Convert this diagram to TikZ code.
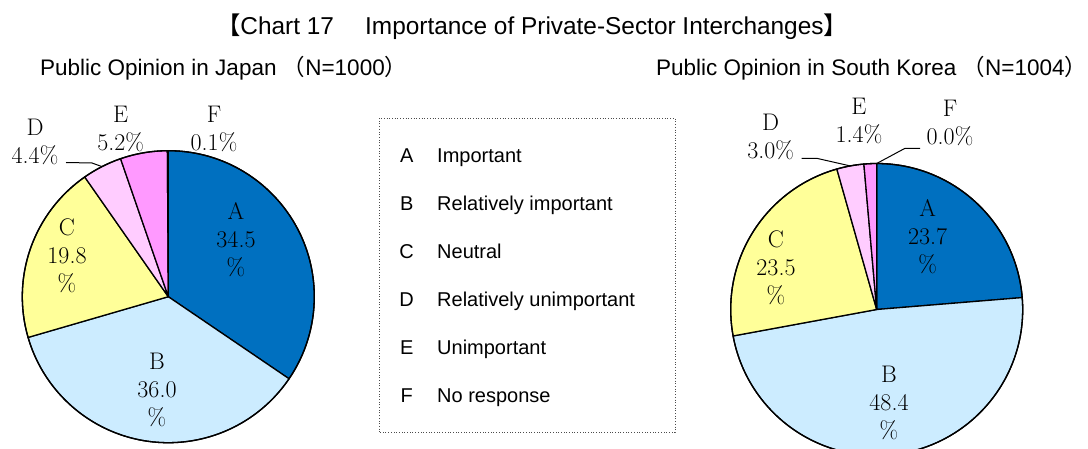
\documentclass[tikz,border=0pt]{standalone}
\usepackage{fontspec}
\usetikzlibrary{calc}
\newfontfamily\arialf{Liberation Sans}
\newfontfamily\cjkf{Noto Sans CJK JP}
\definecolor{cA}{HTML}{0070C0}
\definecolor{cB}{HTML}{CCECFF}
\definecolor{cC}{HTML}{FFFF99}
\definecolor{cD}{HTML}{FFCCFF}
\definecolor{cE}{HTML}{FF99FF}
\definecolor{cF}{HTML}{CC66FF}
\newcommand{\myslice}[4]{\filldraw[slice, fill=#4] (#1) -- ++(#2:146) arc[start angle=#2, end angle=#3, radius=146] -- cycle;}
\begin{document}
\begin{tikzpicture}[x=1pt,y=1pt,
  slice/.style={draw=black, line width=1.3pt, line join=round},
  pielab/.style={font=\fontsize{24}{28}\selectfont, align=center, inner sep=0pt},
  leader/.style={draw=black, line width=1pt},
  legletter/.style={font=\arialf\fontsize{20}{24}\selectfont, anchor=base, inner sep=0pt},
  legtext/.style={font=\arialf\fontsize{20}{24}\selectfont, anchor=base west, inner sep=0pt},
  titletext/.style={font=\arialf\fontsize{24.4}{28}\selectfont, anchor=base, inner sep=0pt},
  subtext/.style={font=\arialf\fontsize{22.5}{26}\selectfont, anchor=base west, inner sep=0pt},
  legbox/.style={draw=black!70, line width=0.7pt, dotted}]
\useasboundingbox (0,0) rectangle (1088,448);
\clip (0,0) rectangle (1088,448);
\fill[white] (0,0) rectangle (1088,448);

% titles
\node[titletext] (title) at (532,413) {{\cjkf 【}Chart 17{\cjkf 　} Importance of Private-Sector Interchanges{\cjkf 】}};
\node[subtext] (subJ) at (40,372) {Public Opinion in Japan {\cjkf （}N=1000{\cjkf ）}};
\node[subtext] (subK) at (656,372) {Public Opinion in South Korea {\cjkf （}N=1004{\cjkf ）}};

% Japan pie
\coordinate (jc) at (168.3,151.3);
\myslice{jc}{90}{-34.2}{cA}
\myslice{jc}{-34.2}{-163.8}{cB}
\myslice{jc}{-163.8}{-235.08}{cC}
\myslice{jc}{-235.08}{-250.92}{cD}
\myslice{jc}{-250.92}{-269.64}{cE}
\myslice{jc}{-269.64}{-270}{cF}
\draw[slice] (jc) circle[radius=146];

\node[pielab] (jA) at (236,208) {A\\34.5\\\%};
\node[pielab] (jB) at (157,58) {B\\36.0\\\%};
\node[pielab] (jC) at (67,192) {C\\19.8\\\%};
\node[pielab] (jD) at (35,305.7) {D\\4.4\%};
\node[pielab] (jE) at (120.7,319) {E\\5.2\%};
\node[pielab] (jF) at (214,319) {F\\0.1\%};
\coordinate (jDs) at (66,285.5);
\coordinate (jDb) at (92,285);
\coordinate (jDe) at ($(jc)+(117:146)$);
\draw[leader] (jDs) -- (jDb) -- (jDe);

% Korea pie
\coordinate (kc) at (876.7,138.5);
\myslice{kc}{90}{4.68}{cA}
\myslice{kc}{4.68}{-169.56}{cB}
\myslice{kc}{-169.56}{-254.16}{cC}
\myslice{kc}{-254.16}{-264.96}{cD}
\myslice{kc}{-264.96}{-270}{cE}
\draw[slice] (kc) circle[radius=146];

\node[pielab] (kA) at (927.7,211.3) {A\\23.7\\\%};
\node[pielab] (kB) at (889,45) {B\\48.4\\\%};
\node[pielab] (kC) at (776,180) {C\\23.5\\\%};
\node[pielab] (kD) at (770.7,310.8) {D\\3.0\%};
\node[pielab] (kE) at (859,326.7) {E\\1.4\%};
\node[pielab] (kF) at (950,325) {F\\0.0\%};
\coordinate (kDs) at (801.7,289.7);
\coordinate (kDb) at (816.7,289.7);
\coordinate (kDe) at ($(kc)+(100.44:146)$);
\draw[leader] (kDs) -- (kDb) -- (kDe);
\coordinate (kFs) at (920,299.7);
\coordinate (kFb) at (905,299.7);
\coordinate (kFe) at ($(kc)+(90:146)$);
\draw[leader] (kFs) -- (kFb) -- (kFe);

% legend
\draw[legbox] (379,16) rectangle (675,329.7);
\foreach \L/\T [count=\i from 0] in {A/Important, B/Relatively important, C/Neutral, D/Relatively unimportant, E/Unimportant, F/No response}{
  \node[legletter] (leg\L) at (406.7,{285.7-48*\i}) {\L};
  \node[legtext] (legt\L) at (437,{285.7-48*\i}) {\T};
}
\end{tikzpicture}
\end{document}
